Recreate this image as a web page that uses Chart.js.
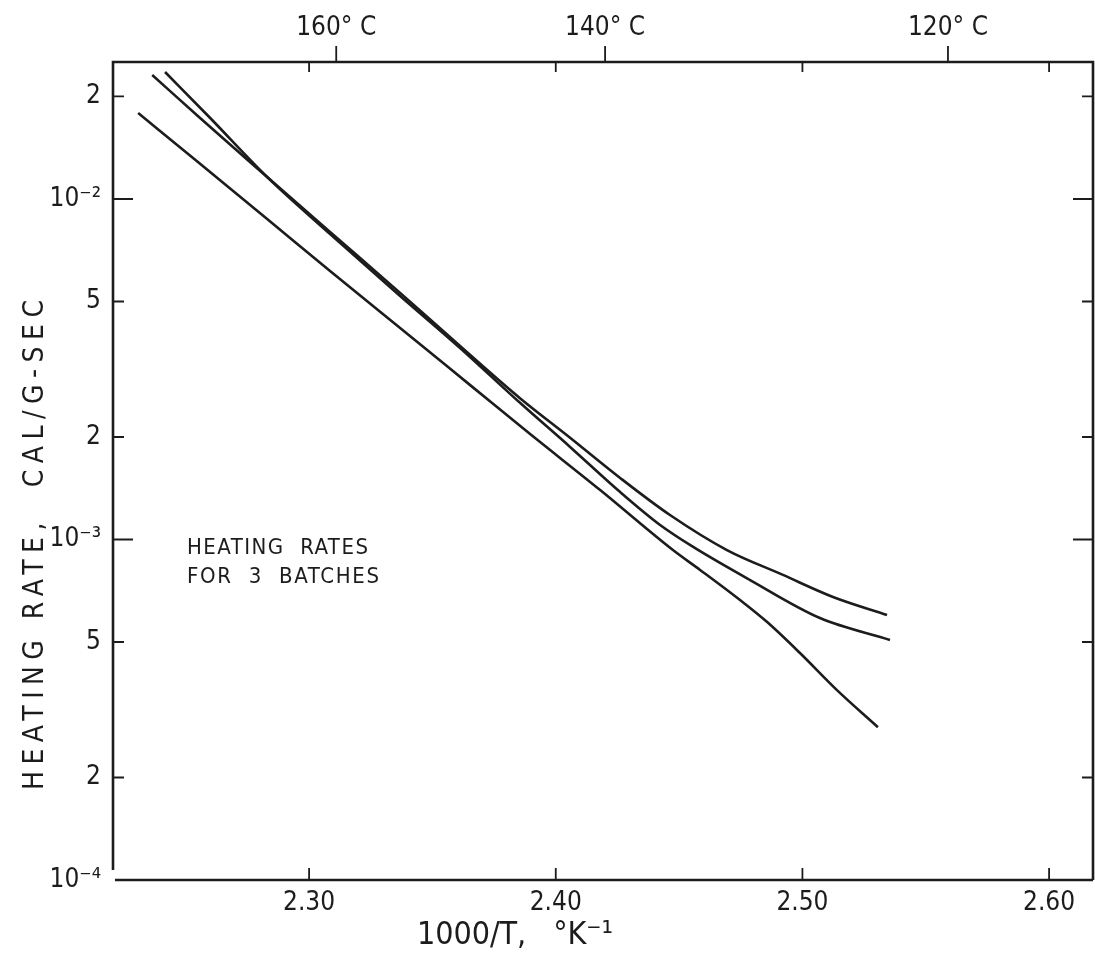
<!DOCTYPE html>
<html>
<head>
<meta charset="utf-8">
<title>Heating rates for 3 batches</title>
<script src="https://cdn.jsdelivr.net/npm/chart.js"></script>
<style>
  html, body { margin: 0; padding: 0; background: #fff; }
  #wrap { width: 1095px; height: 959px; }
</style>
</head>
<body>
<div id="wrap"><canvas id="c"></canvas></div>
<script>
// curves: x = 1000/T (K^-1), y = heating rate (cal/g-sec)
// batchA ends highest, batchB in the middle, batchC (straight one) lowest
const batchA = [
  { x: 2.2364, y: 2.313e-2 }, { x: 2.2558, y: 1.729e-2 }, { x: 2.2830, y: 1.160e-2 },
  { x: 2.3085, y: 8.00e-3 }, { x: 2.3369, y: 5.30e-3 }, { x: 2.3612, y: 3.70e-3 },
  { x: 2.3855, y: 2.60e-3 }, { x: 2.4058, y: 1.99e-3 }, { x: 2.4261, y: 1.516e-3 },
  { x: 2.4463, y: 1.180e-3 }, { x: 2.4694, y: 9.31e-4 }, { x: 2.4921, y: 7.87e-4 },
  { x: 2.5124, y: 6.78e-4 }, { x: 2.5343, y: 6.00e-4 },
];
const batchB = [
  { x: 2.2416, y: 2.36e-2 }, { x: 2.2599, y: 1.729e-2 }, { x: 2.2830, y: 1.160e-2 },
  { x: 2.3085, y: 7.89e-3 }, { x: 2.3369, y: 5.19e-3 }, { x: 2.3612, y: 3.65e-3 },
  { x: 2.3855, y: 2.52e-3 }, { x: 2.4058, y: 1.87e-3 }, { x: 2.4261, y: 1.378e-3 },
  { x: 2.4423, y: 1.103e-3 }, { x: 2.4557, y: 9.51e-4 }, { x: 2.4788, y: 7.60e-4 },
  { x: 2.5071, y: 5.88e-4 }, { x: 2.5355, y: 5.07e-4 },
];
const batchC = [
  { x: 2.2307, y: 1.789e-2 }, { x: 2.2558, y: 1.268e-2 }, { x: 2.2830, y: 8.74e-3 },
  { x: 2.3085, y: 6.14e-3 }, { x: 2.3369, y: 4.18e-3 }, { x: 2.3653, y: 2.84e-3 },
  { x: 2.3896, y: 2.04e-3 }, { x: 2.4180, y: 1.397e-3 }, { x: 2.4475, y: 9.31e-4 },
  { x: 2.4585, y: 8.14e-4 }, { x: 2.4747, y: 6.64e-4 }, { x: 2.4857, y: 5.72e-4 },
  { x: 2.4990, y: 4.64e-4 }, { x: 2.5140, y: 3.61e-4 }, { x: 2.5306, y: 2.81e-4 },
];

const xTicks = [2.30, 2.40, 2.50, 2.60];
const xTickLabels = ["2.30", "2.40", "2.50", "2.60"];
const yTicks = [1e-4, 2e-4, 5e-4, 1e-3, 2e-3, 5e-3, 1e-2, 2e-2];
const yTickLabels = ["10⁻⁴", "2", "5", "10⁻³", "2", "5", "10⁻²", "2"];
// top axis: temperature marks as drawn on the original
const tempTicks = [2.311, 2.420, 2.559];
const tempLabels = ["160° C", "140° C", "120° C"];

const xTitle = "1000/T,   °K⁻¹";
const yTitle = "HEATING RATE,  CAL/G-SEC";
const note = ["HEATING  RATES", "FOR  3  BATCHES"];

const INK = "#1c1c1c";
const FONT = "'Liberation Sans Narrow', 'DejaVu Sans Condensed', 'Liberation Sans', sans-serif";

// draw text stretched to a given width (letter spacing), like hand lettering
function fitText(ctx, text, x, y, width, align) {
  ctx.letterSpacing = "0px";
  const w = ctx.measureText(text).width;
  const sp = (width - w) / Math.max(1, text.length - 1);
  ctx.letterSpacing = sp + "px";
  let x0 = x;
  if (align === "center") x0 = x - width / 2;
  ctx.textAlign = "left";
  ctx.fillText(text, x0, y);
  ctx.letterSpacing = "0px";
}

const frame = {
  id: "frame",
  afterDraw(chart) {
    const { ctx, chartArea: a, scales } = chart;
    const xs = scales.x, ys = scales.y;
    ctx.save();
    ctx.strokeStyle = INK;
    ctx.lineWidth = 2.6;
    ctx.lineCap = "butt";
    ctx.beginPath();
    ctx.moveTo(a.left, a.bottom - 10); ctx.lineTo(a.left, a.top);
    ctx.lineTo(a.right, a.top); ctx.lineTo(a.right, a.bottom);
    ctx.moveTo(a.left + 2, a.bottom); ctx.lineTo(a.right, a.bottom);
    ctx.stroke();

    ctx.lineWidth = 1.8;
    ctx.beginPath();
    yTicks.forEach((v, i) => {
      const py = ys.getPixelForValue(v);
      const len = yTickLabels[i].startsWith("10") ? 20 : 11;
      if (v > 1e-4) {
        ctx.moveTo(a.left, py); ctx.lineTo(a.left + len, py);
        ctx.moveTo(a.right, py); ctx.lineTo(a.right - len, py);
      }
    });
    xTicks.forEach(v => {
      const px = xs.getPixelForValue(v);
      ctx.moveTo(px, a.bottom); ctx.lineTo(px, a.bottom - 12);
      ctx.moveTo(px, a.top); ctx.lineTo(px, a.top + 10);
    });
    tempTicks.forEach(v => {
      const px = xs.getPixelForValue(v);
      ctx.moveTo(px, a.top); ctx.lineTo(px, a.top - 16);
    });
    ctx.stroke();

    ctx.fillStyle = INK;
    ctx.textBaseline = "middle";
    ctx.font = "32px " + FONT;
    fitText(ctx, xTitle, 515, 936, 196, "center");

    ctx.save();
    ctx.translate(36, 545);
    ctx.rotate(-Math.PI / 2);
    ctx.font = "28px " + FONT;
    fitText(ctx, yTitle, 0, 0, 490, "center");
    ctx.restore();

    ctx.font = "22px " + FONT;
    fitText(ctx, note[0], 187, 548, 181, "left");
    fitText(ctx, note[1], 187, 577, 192, "left");
    ctx.restore();
  }
};

const tickFont = { family: FONT, size: 26 };
const noGrid = { display: false, drawTicks: false };

new Chart(document.getElementById("c"), {
  type: "line",
  data: {
    datasets: [batchA, batchB, batchC].map(d => ({
      data: d,
      borderColor: INK,
      borderWidth: 2.6,
      pointRadius: 0,
      cubicInterpolationMode: "monotone",
      fill: false,
    })),
  },
  options: {
    responsive: true,
    maintainAspectRatio: false,
    animation: false,
    layout: { padding: { left: 0, right: 2, top: 0, bottom: 0 } },
    plugins: { legend: { display: false }, tooltip: { enabled: false } },
    scales: {
      x: {
        type: "linear", position: "bottom",
        min: 2.2205, max: 2.6178,
        afterBuildTicks: s => { s.ticks = xTicks.map(v => ({ value: v })); },
        afterFit: s => { s.height = 79; },
        grid: noGrid, border: { display: false },
        ticks: { callback: (v, i) => xTickLabels[i], color: INK, font: tickFont, padding: 8, maxRotation: 0, autoSkip: false },
      },
      x2: {
        type: "linear", position: "top",
        min: 2.2205, max: 2.6178,
        afterBuildTicks: s => { s.ticks = tempTicks.map(v => ({ value: v })); },
        afterFit: s => { s.height = 62; },
        grid: noGrid, border: { display: false },
        ticks: { callback: (v, i) => tempLabels[i], color: INK, font: tickFont, padding: 18, maxRotation: 0, autoSkip: false },
      },
      y: {
        type: "logarithmic", position: "left",
        min: 1e-4, max: 0.02525,
        afterBuildTicks: s => { s.ticks = yTicks.map(v => ({ value: v })); },
        afterFit: s => { s.width = 113; },
        grid: noGrid, border: { display: false },
        ticks: { callback: (v, i) => yTickLabels[i], color: INK, font: tickFont, padding: 12, autoSkip: false },
      },
    },
  },
  plugins: [frame],
});
</script>
</body>
</html>
